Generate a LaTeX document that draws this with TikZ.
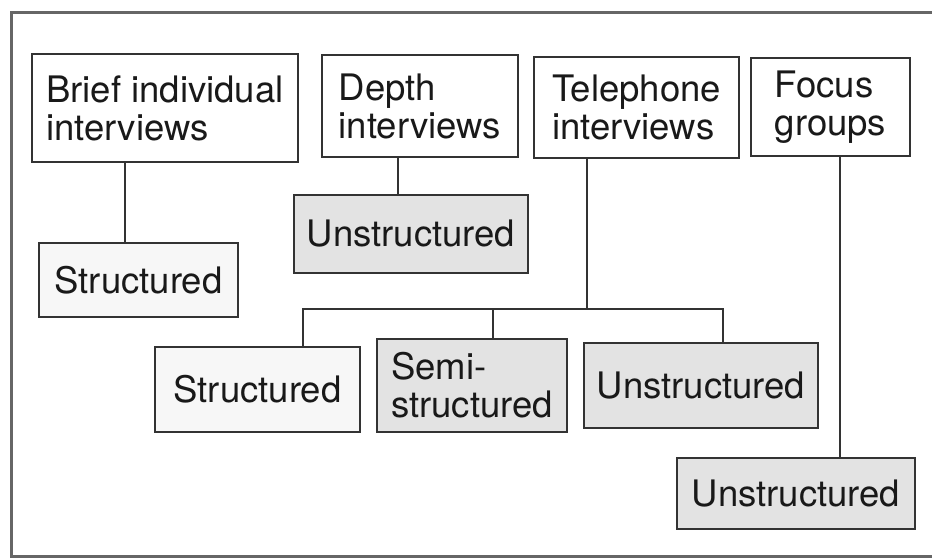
\documentclass[tikz,border=0pt]{standalone}
\usepackage{fontspec}
\setmainfont{TeX Gyre Heros}
\begin{document}
\begin{tikzpicture}[x=1pt,y=-1pt,
  every node/.style={font=\fontsize{36.5}{38}\selectfont, text=black!90, inner sep=0pt, align=left},
  plainbox/.style={draw=black!80, line width=2.2pt, fill=white, minimum width=#1},
  lightbox/.style={draw=black!80, line width=2.2pt, fill=black!3, minimum width=#1},
  shadebox/.style={draw=black!80, line width=2.2pt, fill=black!11, minimum width=#1},
  link/.style={draw=black!80, line width=2pt}]
  % page and frame
  \fill[white] (0,0) rectangle (932,558);
  \useasboundingbox (0,0) rectangle (932,558);
  \draw[black!60, line width=3pt] (932,12) -- (11,12) -- (11,556) -- (932,556);

  % interview types
  \node[plainbox=266pt, minimum height=108pt] (brief) at (165,108) {Brief individual\\interviews};
  \node[plainbox=196pt, minimum height=102pt] (depth) at (420,106) {Depth\\interviews};
  \node[plainbox=205pt, minimum height=101pt] (tel) at (636.5,107.5) {Telephone\\interviews};
  \node[plainbox=159pt, minimum height=98pt] (focus) at (830.5,107) {Focus\\groups};

  % structure of each type
  \node[lightbox=199pt, minimum height=74pt] (s1) at (138.5,280) {Structured};
  \node[shadebox=234pt, minimum height=78pt] (u1) at (411,234) {Unstructured};
  \node[lightbox=205pt, minimum height=85pt] (s2) at (257.5,389.5) {Structured};
  \node[shadebox=190pt, minimum height=93pt] (semi) at (472,385.5) {Semi-\\structured};
  \node[shadebox=234pt, minimum height=85pt] (u2) at (701,385.5) {Unstructured};
  \node[shadebox=238pt, minimum height=71pt] (u3) at (796,493.5) {Unstructured};

  % connector positions
  \coordinate (k1) at (125,0);
  \coordinate (k2) at (398,0);
  \coordinate (bus) at (587,309);
  \coordinate (d1) at (303,309);
  \coordinate (d2) at (493,309);
  \coordinate (d3) at (723,309);
  \coordinate (k4) at (840,0);

  \draw[link] (brief.south -| k1) -- (s1.north -| k1);
  \draw[link] (depth.south -| k2) -- (u1.north -| k2);
  \draw[link] (tel.south -| bus) -- (bus);
  \draw[link] (s2.north -| d1) -- (d1) -- (d3) -- (u2.north -| d3);
  \draw[link] (d2) -- (semi.north -| d2);
  \draw[link] (focus.south -| k4) -- (u3.north -| k4);
\end{tikzpicture}
\end{document}
